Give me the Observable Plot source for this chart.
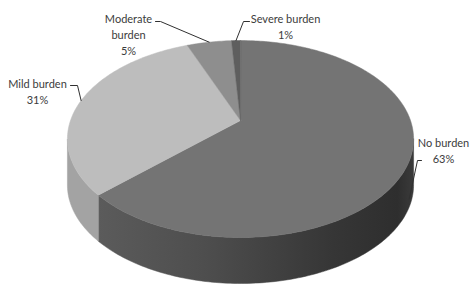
<!DOCTYPE html>
<html>
<head>
<meta charset="utf-8">
<script src="https://cdn.jsdelivr.net/npm/d3@7"></script>
<script src="https://cdn.jsdelivr.net/npm/@observablehq/plot@0.6"></script>
<style>
  html, body { margin: 0; padding: 0; background: #fff; }
  svg { display: block; }
</style>
</head>
<body>
<div id="chart"></div>
<script>
// ---- data ----
const categories = ["No burden", "Mild burden", "Moderate burden", "Severe burden"];
const percents = [63, 31, 5, 1];
const labelTexts = ["No burden\n63%", "Mild burden\n31%", "Moderate\nburden\n5%", "Severe burden\n1%"];

// ---- styles ----
const topColors = ["#747474", "#bdbdbd", "#8e8e8e", "#5e5e5e"];
const sideColors = ["url(#sideGrad)", "#a3a3a3", "#7a7a7a", "#4a4a4a"];

// ---- layout (3D pie geometry + label placement) ----
const W = 470, H = 285;
const cx = 240, cy = 120, rx = 170, ry = 95, persp = 0.188, depth = 46;
const labelPos = [[443, 149], [37, 90], [128, 33], [285, 25]];
const leaderElbows = [[[421, 160], [417, 160]], [[70, 85], [77, 85]], [[155, 21], [160, 21]], [[249, 21], [243, 21]]];
const leaderDz = [38, 0, 0, 0];

function proj(deg, dz = 0) {
  const t = deg * Math.PI / 180;
  const u = Math.sin(t), v = -Math.cos(t);
  const s = 1 / (1 - persp * v);
  return [cx + rx * u * s, cy + ry * v * s + dz];
}

// cumulative angles (clockwise from 12 o'clock)
const total = d3.sum(percents);
let acc = 0;
const slices = percents.map((p, i) => {
  const a0 = acc / total * 360;
  acc += p;
  const a1 = acc / total * 360;
  return {i, a0, a1, mid: (a0 + a1) / 2};
});

// visible front range of the side wall
const vmin = Math.acos(-persp) * 180 / Math.PI;
const frontA = vmin, frontB = 360 - vmin;

const sidePts = [];
const topPts = [];
slices.forEach(s => {
  const lo = Math.max(s.a0, frontA), hi = Math.min(s.a1, frontB);
  if (hi > lo) {
    const n = Math.max(2, Math.ceil((hi - lo) / 1));
    const arc = d3.range(n + 1).map(k => lo + (hi - lo) * k / n);
    arc.forEach(a => { const [x, y] = proj(a); sidePts.push({id: s.i, x, y, c: sideColors[s.i]}); });
    arc.slice().reverse().forEach(a => { const [x, y] = proj(a, depth); sidePts.push({id: s.i, x, y, c: sideColors[s.i]}); });
  }
  const n = Math.max(2, Math.ceil((s.a1 - s.a0) / 1));
  topPts.push({id: s.i, x: cx, y: cy, c: topColors[s.i]});
  d3.range(n + 1).forEach(k => {
    const [x, y] = proj(s.a0 + (s.a1 - s.a0) * k / n);
    topPts.push({id: s.i, x, y, c: topColors[s.i]});
  });
});

const leaderPts = [];
slices.forEach(s => {
  const [e0, e1] = leaderElbows[s.i];
  const [ax, ay] = proj(s.mid, leaderDz[s.i]);
  [[...e0], [...e1], [ax, ay]].forEach(([x, y]) => leaderPts.push({id: s.i, x, y}));
});

const labels = slices.map(s => ({x: labelPos[s.i][0], y: labelPos[s.i][1], text: labelTexts[s.i]}));

const chart = Plot.plot({
  width: W,
  height: H,
  margin: 0,
  x: {domain: [0, W], range: [0, W], axis: null},
  y: {domain: [0, H], range: [0, H], axis: null},
  color: {type: "identity"},
  style: {background: "#fff", fontFamily: "Lato, 'Open Sans', sans-serif"},
  marks: [
    Plot.line(sidePts, {x: "x", y: "y", z: "id", fill: "c", stroke: "c", strokeWidth: 0.5, curve: "linear-closed"}),
    Plot.line(topPts, {x: "x", y: "y", z: "id", fill: "c", stroke: "c", strokeWidth: 0.5, curve: "linear-closed"}),
    Plot.line(leaderPts, {x: "x", y: "y", z: "id", stroke: "#303030", strokeWidth: 1}),
    Plot.text(labels, {x: "x", y: "y", text: "text", fill: "#3c3c3c", fontSize: 11, lineHeight: 1.45, textAnchor: "middle", lineAnchor: "middle"})
  ]
});

// gradient for the dark side wall
const svg = d3.select(chart.tagName.toLowerCase() === "svg" ? chart : chart.querySelector("svg"));
const defs = svg.insert("defs", ":first-child");
const g = defs.append("linearGradient").attr("id", "sideGrad")
  .attr("gradientUnits", "userSpaceOnUse").attr("x1", 90).attr("x2", 413).attr("y1", 0).attr("y2", 0);
[[0, "#5c5c5c"], [0.35, "#4e4e4e"], [0.75, "#363636"], [0.95, "#2e2e2e"], [1, "#3a3a3a"]]
  .forEach(([o, c]) => g.append("stop").attr("offset", o).attr("stop-color", c));

document.getElementById("chart").appendChild(chart);
</script>
</body>
</html>
